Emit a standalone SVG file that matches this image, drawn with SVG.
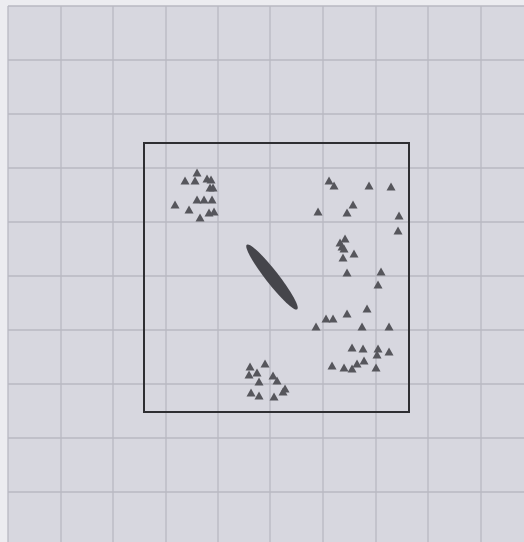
<svg xmlns="http://www.w3.org/2000/svg" width="524" height="542" viewBox="0 0 524 542">
<style>
.grid line{stroke:#b9b9c2;stroke-width:1.3}
.tri{fill:#56565c}
</style>
<defs>
<polygon id="t" points="0,-4.5 4.5,3.5 -4.5,3.5"/>
</defs>
<rect x="0" y="0" width="524" height="542" fill="#ececf0"/>
<rect x="8" y="6" width="516" height="536" fill="#d7d7df"/>
<g class="grid">
<line x1="8" y1="6" x2="8" y2="542"/>
<line x1="61" y1="6" x2="61" y2="542"/>
<line x1="113" y1="6" x2="113" y2="542"/>
<line x1="166" y1="6" x2="166" y2="542"/>
<line x1="218" y1="6" x2="218" y2="542"/>
<line x1="270" y1="6" x2="270" y2="542"/>
<line x1="323" y1="6" x2="323" y2="542"/>
<line x1="376" y1="6" x2="376" y2="542"/>
<line x1="428" y1="6" x2="428" y2="542"/>
<line x1="481" y1="6" x2="481" y2="542"/>
<line x1="8" y1="6" x2="524" y2="6"/>
<line x1="8" y1="60" x2="524" y2="60"/>
<line x1="8" y1="114" x2="524" y2="114"/>
<line x1="8" y1="168" x2="524" y2="168"/>
<line x1="8" y1="222" x2="524" y2="222"/>
<line x1="8" y1="276" x2="524" y2="276"/>
<line x1="8" y1="330" x2="524" y2="330"/>
<line x1="8" y1="384" x2="524" y2="384"/>
<line x1="8" y1="438" x2="524" y2="438"/>
<line x1="8" y1="492" x2="524" y2="492"/>
</g>
<g id="frame">
<rect x="144" y="143" width="265" height="269" fill="none" stroke="#2e2e32" stroke-width="2"/>
</g>
<g id="blade">
<ellipse cx="272" cy="277" rx="41" ry="6.5" transform="rotate(52 272 277)" fill="#45454b"/>
</g>
<g id="cluster-top-left" class="tri">
<use href="#t" x="197" y="173"/>
<use href="#t" x="185" y="181"/>
<use href="#t" x="195" y="181"/>
<use href="#t" x="207" y="179"/>
<use href="#t" x="211" y="180"/>
<use href="#t" x="210" y="188"/>
<use href="#t" x="213" y="188"/>
<use href="#t" x="197" y="200"/>
<use href="#t" x="204" y="200"/>
<use href="#t" x="212" y="200"/>
<use href="#t" x="175" y="205"/>
<use href="#t" x="189" y="210"/>
<use href="#t" x="200" y="218"/>
<use href="#t" x="209" y="213"/>
<use href="#t" x="214" y="212"/>
</g>
<g id="cluster-right" class="tri">
<use href="#t" x="329" y="181"/>
<use href="#t" x="334" y="186"/>
<use href="#t" x="369" y="186"/>
<use href="#t" x="391" y="187"/>
<use href="#t" x="353" y="205"/>
<use href="#t" x="347" y="213"/>
<use href="#t" x="318" y="212"/>
<use href="#t" x="399" y="216"/>
<use href="#t" x="398" y="231"/>
<use href="#t" x="345" y="239"/>
<use href="#t" x="340" y="243"/>
<use href="#t" x="342" y="247"/>
<use href="#t" x="344" y="249"/>
<use href="#t" x="354" y="254"/>
<use href="#t" x="343" y="258"/>
<use href="#t" x="347" y="273"/>
<use href="#t" x="381" y="272"/>
<use href="#t" x="378" y="285"/>
<use href="#t" x="367" y="309"/>
<use href="#t" x="347" y="314"/>
<use href="#t" x="326" y="319"/>
<use href="#t" x="333" y="319"/>
<use href="#t" x="316" y="327"/>
<use href="#t" x="362" y="327"/>
<use href="#t" x="389" y="327"/>
<use href="#t" x="352" y="348"/>
<use href="#t" x="363" y="349"/>
<use href="#t" x="378" y="349"/>
<use href="#t" x="377" y="355"/>
<use href="#t" x="389" y="352"/>
<use href="#t" x="332" y="366"/>
<use href="#t" x="344" y="368"/>
<use href="#t" x="352" y="369"/>
<use href="#t" x="357" y="364"/>
<use href="#t" x="364" y="361"/>
<use href="#t" x="376" y="368"/>
</g>
<g id="cluster-bottom" class="tri">
<use href="#t" x="250" y="367"/>
<use href="#t" x="265" y="364"/>
<use href="#t" x="249" y="375"/>
<use href="#t" x="257" y="373"/>
<use href="#t" x="273" y="376"/>
<use href="#t" x="277" y="381"/>
<use href="#t" x="259" y="382"/>
<use href="#t" x="285" y="389"/>
<use href="#t" x="283" y="392"/>
<use href="#t" x="251" y="393"/>
<use href="#t" x="259" y="396"/>
<use href="#t" x="274" y="397"/>
</g>
</svg>
